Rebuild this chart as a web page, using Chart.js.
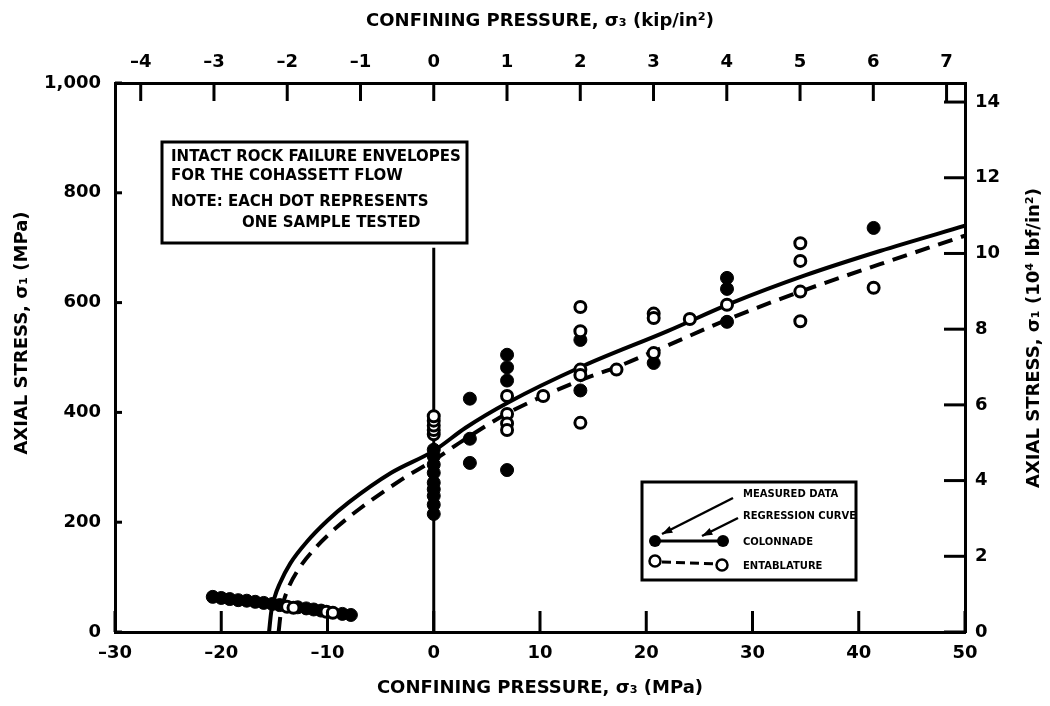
<!DOCTYPE html>
<html>
<head>
<meta charset="utf-8">
<script src="https://cdn.jsdelivr.net/npm/chart.js@4.4.1/dist/chart.umd.min.js"></script>
<style>
html, body { margin: 0; padding: 0; background: #fff; }
#wrap { width: 1050px; height: 706px; }
</style>
</head>
<body>
<div id="wrap"><canvas id="chart" width="1050" height="706"></canvas></div>
<script>
// ticks
const mpaTicks = [-30, -20, -10, 0, 10, 20, 30, 40, 50];
const kipTicks = [-4, -3, -2, -1, 0, 1, 2, 3, 4, 5, 6, 7];
const stressTicks = [0, 200, 400, 600, 800, 1000];
const psiTicks = [0, 2, 4, 6, 8, 10, 12, 14];
const MPA_PER_KSI = 6.895;
const MPA_PER_10KPSI = 68.95;

// colonnade (filled dots), MPa
const colonnadeX = [0, 0, 0, 0, 0, 0, 0, 0, 0, 3.4, 3.4, 3.4, 6.9, 6.9, 6.9, 6.9, 13.8, 13.8, 20.7, 27.6, 27.6, 27.6, 41.4];
const colonnadeY = [215, 232, 248, 260, 272, 290, 305, 320, 332, 425, 352, 308, 505, 482, 458, 295, 532, 440, 490, 645, 625, 565, 736];
const colTensionX = [-20.8, -20.0, -19.2, -18.4, -17.6, -16.8, -16.0, -15.2, -14.5, -12.8, -12.0, -11.3, -10.6, -8.6, -7.8];
const colTensionY = [64, 62, 60, 58, 57, 55, 53, 51, 49, 45, 43, 41, 39, 33, 31];

// entablature (open dots)
const entablatureX = [0, 0, 0, 0, 0, 6.9, 6.9, 6.9, 6.9, 10.3, 13.8, 13.8, 13.8, 13.8, 13.8, 17.2, 20.7, 20.7, 20.7, 24.1, 27.6, 34.5, 34.5, 34.5, 34.5, 41.4];
const entablatureY = [360, 368, 376, 385, 393, 430, 397, 380, 368, 430, 592, 548, 478, 468, 381, 478, 580, 572, 508, 570, 596, 708, 676, 620, 566, 627];
const entTensionX = [-13.8, -13.2, -10.1, -9.5];
const entTensionY = [46, 44, 37, 35];

// regression curves
const colCurveX = [-15.5, -15.3, -15.0, -14.5, -13.5, -12, -10, -8, -4, 0, 3, 7, 14, 22, 28, 35, 42, 50];
const colCurveY = [0, 36, 62, 88, 125, 163, 203, 236, 290, 330, 372, 418, 484, 548, 599, 650, 694, 740];
const entCurveX = [-14.6, -14.4, -14.1, -13.6, -12.6, -11, -9, -7, -3, 0, 3, 7, 14, 17.4, 22, 28, 34.5, 42, 50];
const entCurveY = [0, 34, 58, 84, 118, 156, 193, 224, 278, 313, 352, 399, 460, 484, 522, 572, 620, 670, 722];

const zeroLineX = [0, 0];
const zeroLineY = [0, 700];

const FONT = '"DejaVu Sans", "Liberation Sans", sans-serif';

function pts(xs, ys) {
    return xs.map((x, i) => ({ x: x, y: ys[i] }));
}

function fmtDash(v) {
    return v < 0 ? '\u2013' + Math.abs(v) : String(v);
}

const inwardTicks = {
    id: 'inwardTicks',
    afterDatasetsDraw(chart) {
        const { ctx, chartArea: ca, scales } = chart;
        ctx.save();
        ctx.strokeStyle = '#000';
        ctx.lineWidth = 3;
        scales.x.ticks.forEach(t => {
            const px = scales.x.getPixelForValue(t.value);
            ctx.beginPath(); ctx.moveTo(px, ca.bottom); ctx.lineTo(px, ca.bottom - 21); ctx.stroke();
        });
        scales.x2.ticks.forEach(t => {
            const px = scales.x2.getPixelForValue(t.value);
            ctx.beginPath(); ctx.moveTo(px, ca.top); ctx.lineTo(px, ca.top + 18); ctx.stroke();
        });
        scales.y.ticks.forEach(t => {
            const py = scales.y.getPixelForValue(t.value);
            ctx.beginPath(); ctx.moveTo(ca.left, py); ctx.lineTo(ca.left + 7, py); ctx.stroke();
        });
        scales.y2.ticks.forEach(t => {
            const py = scales.y2.getPixelForValue(t.value);
            ctx.beginPath(); ctx.moveTo(ca.right, py); ctx.lineTo(ca.right - 21, py); ctx.stroke();
        });
        ctx.restore();
    }
};

const notes = {
    id: 'notes',
    afterDraw(chart) {
        const { ctx, chartArea: ca } = chart;
        ctx.save();
        ctx.fillStyle = '#000';
        ctx.strokeStyle = '#000';

        // title box
        const bx = ca.left + 47, by = ca.top + 59, bw = 305, bh = 101;
        ctx.fillStyle = '#fff';
        ctx.fillRect(bx, by, bw, bh);
        ctx.fillStyle = '#000';
        ctx.lineWidth = 3;
        ctx.strokeRect(bx, by, bw, bh);
        ctx.font = 'bold 15px ' + FONT;
        ctx.textBaseline = 'middle';
        ctx.textAlign = 'left';
        ctx.fillText('INTACT ROCK FAILURE ENVELOPES', bx + 9, by + 15);
        ctx.fillText('FOR THE COHASSETT FLOW', bx + 9, by + 34);
        ctx.fillText('NOTE: EACH DOT REPRESENTS', bx + 9, by + 60);
        ctx.fillText('ONE SAMPLE TESTED', bx + 80, by + 81);

        // legend box
        const lx = ca.left + 527, ly = ca.top + 399, lw = 214, lh = 98;
        ctx.lineWidth = 3;
        ctx.strokeRect(lx, ly, lw, lh);
        ctx.font = 'bold 10px ' + FONT;
        ctx.fillText('MEASURED DATA', lx + 101, ly + 12);
        ctx.fillText('REGRESSION CURVE', lx + 101, ly + 34);
        ctx.fillText('COLONNADE', lx + 101, ly + 60);
        ctx.fillText('ENTABLATURE', lx + 101, ly + 84);

        const arrow = (x1, y1, x2, y2) => {
            ctx.lineWidth = 2.5;
            ctx.beginPath(); ctx.moveTo(x1, y1); ctx.lineTo(x2, y2); ctx.stroke();
            const a = Math.atan2(y2 - y1, x2 - x1);
            ctx.beginPath();
            ctx.moveTo(x2, y2);
            ctx.lineTo(x2 - 11 * Math.cos(a - 0.35), y2 - 11 * Math.sin(a - 0.35));
            ctx.lineTo(x2 - 11 * Math.cos(a + 0.35), y2 - 11 * Math.sin(a + 0.35));
            ctx.closePath(); ctx.fill();
        };
        arrow(lx + 91, ly + 16, lx + 20, ly + 52);
        arrow(lx + 96, ly + 36, lx + 60, ly + 54);

        // colonnade sample
        ctx.lineWidth = 3;
        ctx.beginPath(); ctx.moveTo(lx + 13, ly + 59); ctx.lineTo(lx + 81, ly + 59); ctx.stroke();
        ctx.beginPath(); ctx.arc(lx + 13, ly + 59, 6, 0, Math.PI * 2); ctx.fill();
        ctx.beginPath(); ctx.arc(lx + 81, ly + 59, 6, 0, Math.PI * 2); ctx.fill();

        // entablature sample
        ctx.setLineDash([9, 5]);
        ctx.beginPath(); ctx.moveTo(lx + 20, ly + 80); ctx.lineTo(lx + 75, ly + 82); ctx.stroke();
        ctx.setLineDash([]);
        ctx.lineWidth = 2.5;
        [[lx + 13, ly + 79], [lx + 80, ly + 83]].forEach(p => {
            ctx.beginPath(); ctx.arc(p[0], p[1], 5.5, 0, Math.PI * 2);
            ctx.fillStyle = '#fff'; ctx.fill(); ctx.stroke();
        });
        ctx.fillStyle = '#000';

        // side axis titles, both read bottom to top
        ctx.font = 'bold 18px ' + FONT;
        ctx.textAlign = 'center';
        ctx.save();
        ctx.translate(22, ca.top + 250);
        ctx.rotate(-Math.PI / 2);
        ctx.fillText('AXIAL STRESS, \u03c3\u2081 (MPa)', 0, 0);
        ctx.restore();
        ctx.save();
        ctx.translate(1034, ca.top + 255);
        ctx.rotate(-Math.PI / 2);
        ctx.fillText('AXIAL STRESS, \u03c3\u2081 (10\u2074 lbf/in\u00b2)', 0, 0);
        ctx.restore();
        ctx.restore();
    }
};

const tickFont = { family: FONT, size: 18, weight: 'bold' };
const titleFont = { family: FONT, size: 18, weight: 'bold' };
const axisBase = {
    type: 'linear',
    grid: { display: true, drawOnChartArea: false, drawTicks: false },
    border: { display: true, color: '#000', width: 3 },
    ticks: { color: '#000', font: tickFont, padding: 11 }
};

const ctx = document.getElementById('chart').getContext('2d');
new Chart(ctx, {
    type: 'scatter',
    data: {
        datasets: [
            {
                label: 'Entablature',
                data: pts(entablatureX, entablatureY).concat(pts(entTensionX, entTensionY)),
                pointRadius: 5.5, pointBorderWidth: 3,
                pointBackgroundColor: '#fff', pointBorderColor: '#000'
            },
            {
                label: 'Colonnade',
                data: pts(colonnadeX, colonnadeY).concat(pts(colTensionX, colTensionY)),
                pointRadius: 6.5, pointBorderWidth: 1,
                pointBackgroundColor: '#000', pointBorderColor: '#000'
            },
            {
                label: 'Colonnade regression',
                data: pts(colCurveX, colCurveY),
                showLine: true, pointRadius: 0, borderColor: '#000', borderWidth: 4,
                cubicInterpolationMode: 'monotone'
            },
            {
                label: 'Entablature regression',
                data: pts(entCurveX, entCurveY),
                showLine: true, pointRadius: 0, borderColor: '#000', borderWidth: 4,
                borderDash: [15, 9], cubicInterpolationMode: 'monotone'
            },
            {
                label: 'zero',
                data: pts(zeroLineX, zeroLineY),
                showLine: true, pointRadius: 0, borderColor: '#000', borderWidth: 3
            }
        ]
    },
    options: {
        responsive: false,
        animation: false,
        layout: { padding: 0, autoPadding: false },
        plugins: { legend: { display: false }, tooltip: { enabled: false } },
        scales: {
            x: Object.assign({}, axisBase, {
                position: 'bottom', min: -30, max: 50,
                afterBuildTicks: s => { s.ticks = mpaTicks.map(v => ({ value: v })); },
                afterFit: s => { s.height = 74; },
                ticks: Object.assign({}, axisBase.ticks, { callback: v => fmtDash(v) }),
                title: { display: true, text: 'CONFINING PRESSURE, \u03c3\u2083 (MPa)', color: '#000', font: titleFont, padding: { top: 6, bottom: 7 } }
            }),
            x2: Object.assign({}, axisBase, {
                position: 'top', min: -30 / MPA_PER_KSI, max: 50 / MPA_PER_KSI,
                afterBuildTicks: s => { s.ticks = kipTicks.map(v => ({ value: v })); },
                afterFit: s => { s.height = 83; },
                ticks: Object.assign({}, axisBase.ticks, { callback: v => fmtDash(v), padding: 10 }),
                title: { display: true, text: 'CONFINING PRESSURE, \u03c3\u2083 (kip/in\u00b2)', color: '#000', font: titleFont, padding: { top: 11, bottom: 10 } }
            }),
            y: Object.assign({}, axisBase, {
                position: 'left', min: 0, max: 1000,
                afterBuildTicks: s => { s.ticks = stressTicks.map(v => ({ value: v })); },
                afterFit: s => { s.width = 115; },
                ticks: Object.assign({}, axisBase.ticks, { callback: v => v.toLocaleString('en-US'), padding: 14 })
            }),
            y2: Object.assign({}, axisBase, {
                position: 'right', min: 0, max: 1000 / MPA_PER_10KPSI,
                afterBuildTicks: s => { s.ticks = psiTicks.map(v => ({ value: v })); },
                afterFit: s => { s.width = 85; },
                ticks: Object.assign({}, axisBase.ticks, { padding: 10 })
            })
        }
    },
    plugins: [inwardTicks, notes]
});
</script>
</body>
</html>
